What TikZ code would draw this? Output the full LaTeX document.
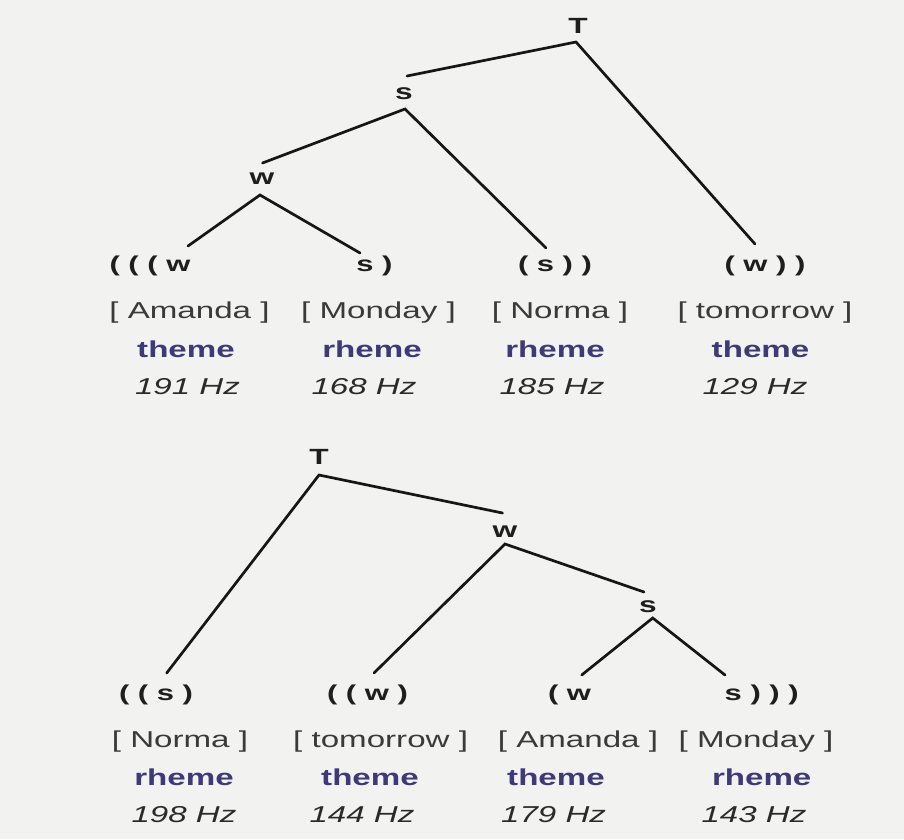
\documentclass[tikz,border=0pt]{standalone}
\usepackage{fontspec}
\setmainfont{Liberation Sans}
\usepackage{graphicx}
\definecolor{bgc}{RGB}{242,242,241}
\definecolor{linec}{RGB}{22,22,22}
\definecolor{labc}{RGB}{30,30,30}
\definecolor{wordc}{RGB}{58,58,58}
\definecolor{rolec}{RGB}{62,58,122}
\definecolor{hzc}{RGB}{42,42,42}
\newcommand{\stx}[1]{\scalebox{1.44}[1]{#1}}
\begin{document}
\begin{tikzpicture}[x=1pt,y=-1pt,
  edge/.style={line width=2.7pt, draw=linec, line cap=round},
  lab/.style={anchor=base, inner sep=0pt, font=\fontsize{22}{26}\selectfont\bfseries, text=labc},
  leaf/.style={anchor=base, inner sep=0pt, font=\fontsize{21.5}{25}\selectfont\bfseries, text=labc},
  word/.style={anchor=base, inner sep=0pt, font=\fontsize{23}{27}\selectfont, text=wordc},
  role/.style={anchor=base, inner sep=0pt, font=\fontsize{23}{27}\selectfont\bfseries, text=rolec},
  hz/.style={anchor=base, inner sep=0pt, font=\fontsize{23}{27}\selectfont\itshape, text=hzc}]
\fill[bgc] (0,0) rectangle (904,839);
\useasboundingbox (0,0) rectangle (904,839);

% ---------- top tree ----------
\node[lab] (aT) at (578,33.5) {\stx{T}};
\node[lab] (as) at (404,99.5) {\stx{s}};
\node[lab] (aw) at (262,184.5) {\stx{w}};
\coordinate (aTv) at (576,42);
\coordinate (asT) at (407,76);
\coordinate (asv) at (405,109);
\coordinate (aws) at (262.5,163);
\coordinate (awv) at (260,195);
\coordinate (e1) at (188,246);
\coordinate (e2) at (360,253);
\coordinate (e3) at (546,248);
\coordinate (e4) at (755,244);

\draw[edge] (asT) -- (aTv) -- (e4);
\draw[edge] (aws) -- (asv) -- (e3);
\draw[edge] (e1) -- (awv) -- (e2);

\node[leaf] (al1) at (150,271) {\stx{( ( ( w}};
\node[leaf] (al2) at (374.5,271) {\stx{s )}};
\node[leaf] (al3) at (555,271) {\stx{( s ) )}};
\node[leaf] (al4) at (765,271) {\stx{( w ) )}};

\node[word] (aa1) at (189.5,318) {\stx{[ Amanda ]}};
\node[word] (aa2) at (378.5,318) {\stx{[ Monday ]}};
\node[word] (aa3) at (560,318) {\stx{[ Norma ]}};
\node[word] (aa4) at (765,318) {\stx{[ tomorrow ]}};

\node[role] (ar1) at (186,357) {\stx{theme}};
\node[role] (ar2) at (372,357) {\stx{rheme}};
\node[role] (ar3) at (555,357) {\stx{rheme}};
\node[role] (ar4) at (760.5,357) {\stx{theme}};

\node[hz] (ah1) at (187.5,394) {\stx{191 Hz}};
\node[hz] (ah2) at (364,394) {\stx{168 Hz}};
\node[hz] (ah3) at (552,394) {\stx{185 Hz}};
\node[hz] (ah4) at (755,394) {\stx{129 Hz}};

% ---------- bottom tree ----------
\node[lab] (bT) at (319,464) {\stx{T}};
\node[lab] (bw) at (505,537.5) {\stx{w}};
\node[lab] (bs) at (648,612) {\stx{s}};
\coordinate (bTv) at (319,475);
\coordinate (bwT) at (502.5,513);
\coordinate (bwv) at (505,544);
\coordinate (bsw) at (644,592);
\coordinate (bsv) at (652.7,618);
\coordinate (f1) at (166.7,673);
\coordinate (f2) at (374,673);
\coordinate (f3) at (581.7,675);
\coordinate (f4) at (725,675);

\draw[edge] (f1) -- (bTv) -- (bwT);
\draw[edge] (f2) -- (bwv) -- (bsw);
\draw[edge] (f3) -- (bsv) -- (f4);

\node[leaf] (bl1) at (156,700) {\stx{( ( s )}};
\node[leaf] (bl2) at (367.5,700) {\stx{( ( w )}};
\node[leaf] (bl3) at (569.5,700) {\stx{( w}};
\node[leaf] (bl4) at (761.7,700) {\stx{s ) ) )}};

\node[word] (ba1) at (180,747) {\stx{[ Norma ]}};
\node[word] (ba2) at (380.6,747) {\stx{[ tomorrow ]}};
\node[word] (ba3) at (578,747) {\stx{[ Amanda ]}};
\node[word] (ba4) at (756,747) {\stx{[ Monday ]}};

\node[role] (br1) at (184,785) {\stx{rheme}};
\node[role] (br2) at (370,785) {\stx{theme}};
\node[role] (br3) at (556,785) {\stx{theme}};
\node[role] (br4) at (761.7,785) {\stx{rheme}};

\node[hz] (bh1) at (184,822) {\stx{198 Hz}};
\node[hz] (bh2) at (362,822) {\stx{144 Hz}};
\node[hz] (bh3) at (553.6,822) {\stx{179 Hz}};
\node[hz] (bh4) at (754,822) {\stx{143 Hz}};
\end{tikzpicture}
\end{document}
